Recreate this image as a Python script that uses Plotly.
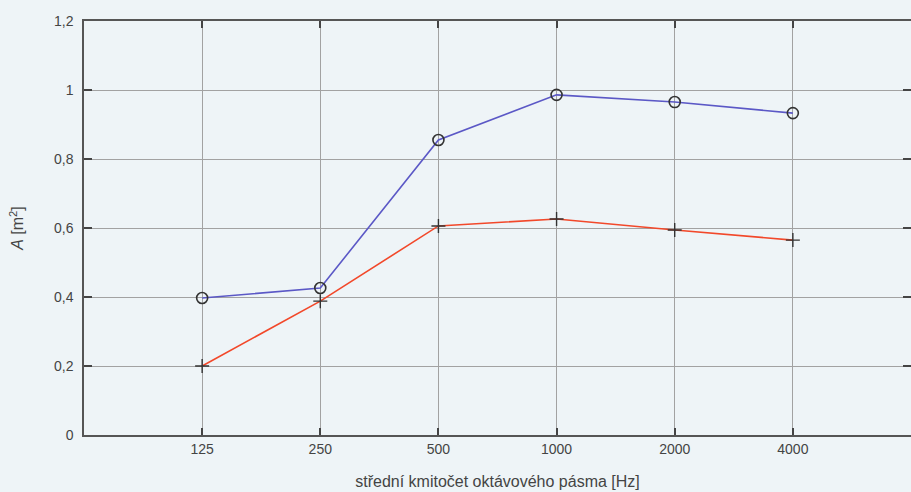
import plotly.graph_objects as go

# Octave band centre frequencies [Hz]
bands = ["125", "250", "500", "1000", "2000", "4000"]
# Equivalent absorption area A [m2] for the two configurations
area_circle = [0.397, 0.426, 0.855, 0.986, 0.965, 0.933]
area_plus = [0.200, 0.388, 0.606, 0.626, 0.594, 0.565]

y_ticks = [0, 0.2, 0.4, 0.6, 0.8, 1.0, 1.2]
y_labels = ["0", "0,2", "0,4", "0,6", "0,8", "1", "1,2"]

bg = "#eef4f7"
font = "Liberation Sans, Arial, sans-serif"

fig = go.Figure()
fig.add_trace(go.Scatter(
    x=bands, y=area_circle, mode="lines+markers",
    line=dict(color="#5b58c6", width=1.6),
    marker=dict(symbol="circle-open", size=11, color="#333333",
                line=dict(color="#333333", width=1.6)),
    showlegend=False,
))
fig.add_trace(go.Scatter(
    x=bands, y=area_plus, mode="lines+markers",
    line=dict(color="#f2482a", width=1.6),
    marker=dict(symbol="cross-thin-open", size=10, color="#333333",
                line=dict(color="#333333", width=1.4)),
    showlegend=False,
))
# invisible trace on the right-hand axis so its inward ticks are drawn
fig.add_trace(go.Scatter(x=bands, y=area_plus, yaxis="y2", mode="none",
                         showlegend=False, hoverinfo="skip"))

fig.update_layout(
    width=911, height=492,
    margin=dict(l=84, r=0, t=21, b=57),
    paper_bgcolor=bg, plot_bgcolor=bg,
    font=dict(family=font, size=14, color="#444444"),
    xaxis=dict(
        type="category", range=[-1, 6],
        showgrid=True, gridcolor="#a2a2a2", gridwidth=1,
        showline=True, linecolor="#555555", linewidth=1.5, mirror="ticks",
        ticks="inside", ticklen=7, tickwidth=1.5, tickcolor="#444444",
        tickfont=dict(size=14, color="#444444"),
        title=dict(text="střední kmitočet oktávového pásma [Hz]",
                   font=dict(size=16, color="#444444"), standoff=20),
        zeroline=False,
    ),
    yaxis=dict(
        range=[0, 1.2], tickvals=y_ticks, ticktext=y_labels,
        showgrid=True, gridcolor="#a2a2a2", gridwidth=1,
        showline=True, linecolor="#555555", linewidth=1.5,
        ticks="inside", ticklen=8, tickwidth=2, tickcolor="#444444",
        tickfont=dict(size=14, color="#444444"), ticklabelstandoff=6,
        title=dict(text="<i>A</i> [m<sup>2</sup>]",
                   font=dict(size=16, color="#444444"), standoff=26),
        zeroline=False,
    ),
    yaxis2=dict(
        overlaying="y", side="right", matches="y",
        tickvals=y_ticks, showticklabels=False, showgrid=False,
        showline=False, zeroline=False,
        ticks="inside", ticklen=8, tickwidth=2, tickcolor="#444444",
    ),
)

fig.write_html("out.html")
